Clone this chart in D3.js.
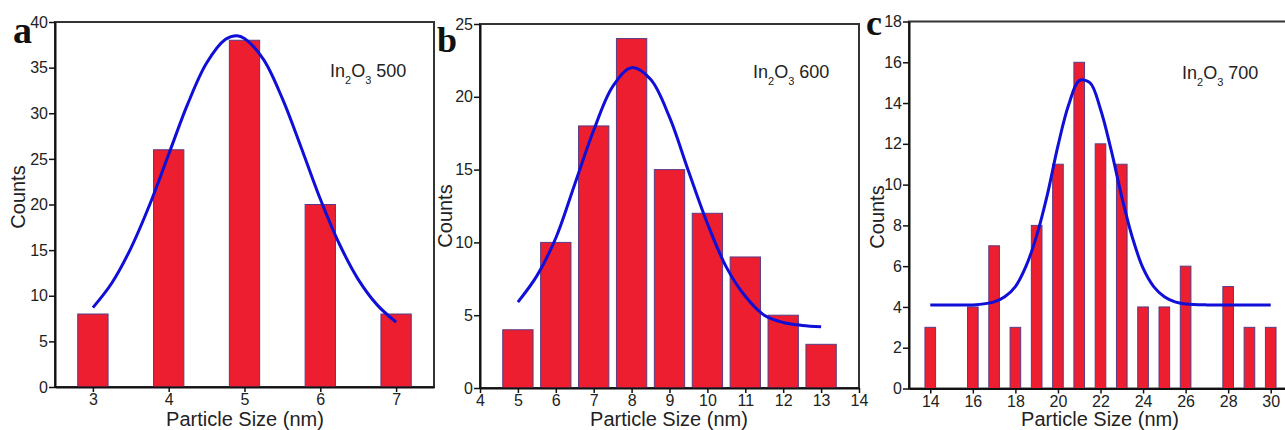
<!DOCTYPE html>
<html>
<head>
<meta charset="utf-8">
<script src="https://cdn.jsdelivr.net/npm/d3@7"></script>
<style>
  body { margin: 0; background: #fff; }
  svg { display: block; font-family: "Liberation Sans", Arial, sans-serif; }
  .axis text { font-size: 16px; fill: #222; }
</style>
</head>
<body>
<main></main>
<script>
// panel a - In2O3 500
const sizesA = [3, 4, 5, 6, 7];
const countsA = [8, 26, 38, 20, 8];
const fitXA = [3, 3.25, 3.5, 3.75, 4, 4.25, 4.5, 4.75, 4.9, 5, 5.25, 5.5, 5.75, 6, 6.25, 6.5, 6.75, 7];
const fitYA = [8.7, 11.4, 15.2, 20.0, 25.5, 31.0, 35.5, 38.1, 38.5, 38.2, 35.9, 31.6, 26.2, 20.6, 15.7, 11.8, 9.0, 7.1];
const xTicksA = [3, 4, 5, 6, 7];
const yTicksA = [0, 5, 10, 15, 20, 25, 30, 35, 40];

// panel b - In2O3 600
const sizesB = [5, 6, 7, 8, 9, 10, 11, 12, 13];
const countsB = [4, 10, 18, 24, 15, 12, 9, 5, 3];
const fitXB = [5, 5.5, 6, 6.5, 7, 7.5, 8, 8.5, 9, 9.5, 10, 10.5, 11, 11.5, 12, 12.5, 13];
const fitYB = [5.9, 7.7, 10.3, 14.0, 17.7, 20.7, 22.0, 21.2, 18.6, 14.9, 11.3, 8.3, 6.3, 5.0, 4.5, 4.3, 4.2];
const xTicksB = [4, 5, 6, 7, 8, 9, 10, 11, 12, 13, 14];
const yTicksB = [0, 5, 10, 15, 20, 25];

// panel c - In2O3 700
const sizesC = [14, 16, 17, 18, 19, 20, 21, 22, 23, 24, 25, 26, 28, 29, 30];
const countsC = [3, 4, 7, 3, 8, 11, 16, 12, 11, 4, 4, 6, 5, 3, 3];
const fitXC = [14, 15, 16, 17, 17.5, 18, 18.5, 19, 19.5, 20, 20.5, 21, 21.5, 22, 22.5, 23, 23.5, 24, 24.5, 25, 25.5, 26, 27, 28, 29, 30];
const fitYC = [4.1, 4.1, 4.1, 4.25, 4.5, 5.0, 6.0, 7.5, 9.5, 11.9, 13.9, 15.1, 15.0, 13.7, 11.7, 9.4, 7.4, 5.9, 5.0, 4.5, 4.25, 4.15, 4.1, 4.1, 4.1, 4.1];
const xTicksC = [14, 16, 18, 20, 22, 24, 26, 28, 30];
const yTicksC = [0, 2, 4, 6, 8, 10, 12, 14, 16, 18];

const panels = [
    {letter: "a", temp: "500", sizes: sizesA, counts: countsA, fitX: fitXA, fitY: fitYA, xTicks: xTicksA, yTicks: yTicksA,
     xDomain: [2.5, 7.5], yMax: 40, left: 55, right: 434, top: 22, bottom: 387, barW: 0.4,
     letterPos: [13, 43, 38], tempPos: [330, 77], countsPos: [25, 197], labelX: 245},
    {letter: "b", temp: "600", sizes: sizesB, counts: countsB, fitX: fitXB, fitY: fitYB, xTicks: xTicksB, yTicks: yTicksB,
     xDomain: [4, 14], yMax: 25, left: 480, right: 859, top: 24, bottom: 388, barW: 0.8,
     letterPos: [437, 52, 36], tempPos: [753, 78], countsPos: [452, 216], labelX: 669},
    {letter: "c", temp: "700", sizes: sizesC, counts: countsC, fitX: fitXC, fitY: fitYC, xTicks: xTicksC, yTicks: yTicksC,
     xDomain: [13, 31], yMax: 18, left: 909, right: 1292, top: 21.5, bottom: 388.5, barW: 0.5,
     letterPos: [866, 35, 36], tempPos: [1182, 79], countsPos: [884, 217], labelX: 1100}
];

const svg = d3.select("main").append("svg")
    .attr("width", 1285)
    .attr("height", 430);

panels.forEach((p) => {
    const x = d3.scaleLinear().domain(p.xDomain).range([p.left, p.right]);
    const y = d3.scaleLinear().domain([0, p.yMax]).range([p.bottom, p.top]);
    const g = svg.append("g");

    // frame (top + right)
    g.append("rect")
        .attr("x", p.left).attr("y", p.top)
        .attr("width", p.right - p.left).attr("height", p.bottom - p.top)
        .attr("fill", "none").attr("stroke", "#333").attr("stroke-width", 2);

    const bars = p.sizes.map((s, i) => ({size: s, count: p.counts[i]}));
    g.selectAll(".bar")
        .data(bars)
        .enter()
        .append("rect")
        .attr("class", "bar")
        .attr("x", (d) => x(d.size - p.barW / 2))
        .attr("width", (d) => x(d.size + p.barW / 2) - x(d.size - p.barW / 2))
        .attr("y", (d) => y(d.count))
        .attr("height", (d) => y(0) - y(d.count))
        .attr("fill", "#ec1e2f")
        .attr("stroke", "#5a3c86")
        .attr("stroke-width", 1);

    const fit = p.fitX.map((v, i) => ({x: v, y: p.fitY[i]}));
    const line = d3.line()
        .x((d) => x(d.x))
        .y((d) => y(d.y))
        .curve(d3.curveCatmullRom);
    g.append("path")
        .datum(fit)
        .attr("fill", "none")
        .attr("stroke", "#0f0fd8")
        .attr("stroke-width", 3)
        .attr("d", line);

    const xAxis = d3.axisBottom(x).tickValues(p.xTicks).tickFormat(d3.format("d"))
        .tickSize(5).tickSizeOuter(0).tickPadding(2);
    const yAxis = d3.axisLeft(y).tickValues(p.yTicks).tickFormat(d3.format("d"))
        .tickSize(6).tickSizeOuter(0).tickPadding(1);

    const gx = g.append("g")
        .attr("class", "axis")
        .attr("transform", "translate(0," + p.bottom + ")")
        .call(xAxis);
    const gy = g.append("g")
        .attr("class", "axis")
        .attr("transform", "translate(" + p.left + ",0)")
        .call(yAxis);
    [gx, gy].forEach((a) => {
        a.select(".domain").attr("stroke", "#111").attr("stroke-width", 2);
        a.selectAll(".tick line").attr("stroke", "#111").attr("stroke-width", 1.5);
    });

    // axis titles
    g.append("text")
        .attr("x", p.labelX).attr("y", 426)
        .attr("text-anchor", "middle")
        .attr("font-size", 20).attr("fill", "#222")
        .text("Particle Size (nm)");
    g.append("text")
        .attr("transform", "translate(" + p.countsPos[0] + "," + p.countsPos[1] + ") rotate(-90)")
        .attr("text-anchor", "middle")
        .attr("font-size", 20).attr("fill", "#222")
        .text("Counts");

    // panel letter
    g.append("text")
        .attr("x", p.letterPos[0]).attr("y", p.letterPos[1])
        .attr("font-family", "'Liberation Serif', 'Times New Roman', serif")
        .attr("font-weight", "bold")
        .attr("font-size", p.letterPos[2])
        .attr("fill", "#111")
        .text(p.letter);

    // sample label In2O3 xxx
    const t = g.append("text")
        .attr("x", p.tempPos[0]).attr("y", p.tempPos[1])
        .attr("font-size", 18).attr("fill", "#222");
    t.append("tspan").text("In");
    t.append("tspan").attr("font-size", 11).attr("dy", 7).text("2");
    t.append("tspan").attr("dy", -7).text("O");
    t.append("tspan").attr("font-size", 11).attr("dy", 7).text("3");
    t.append("tspan").attr("dy", -7).text(" " + p.temp);
});
</script>
</body>
</html>
